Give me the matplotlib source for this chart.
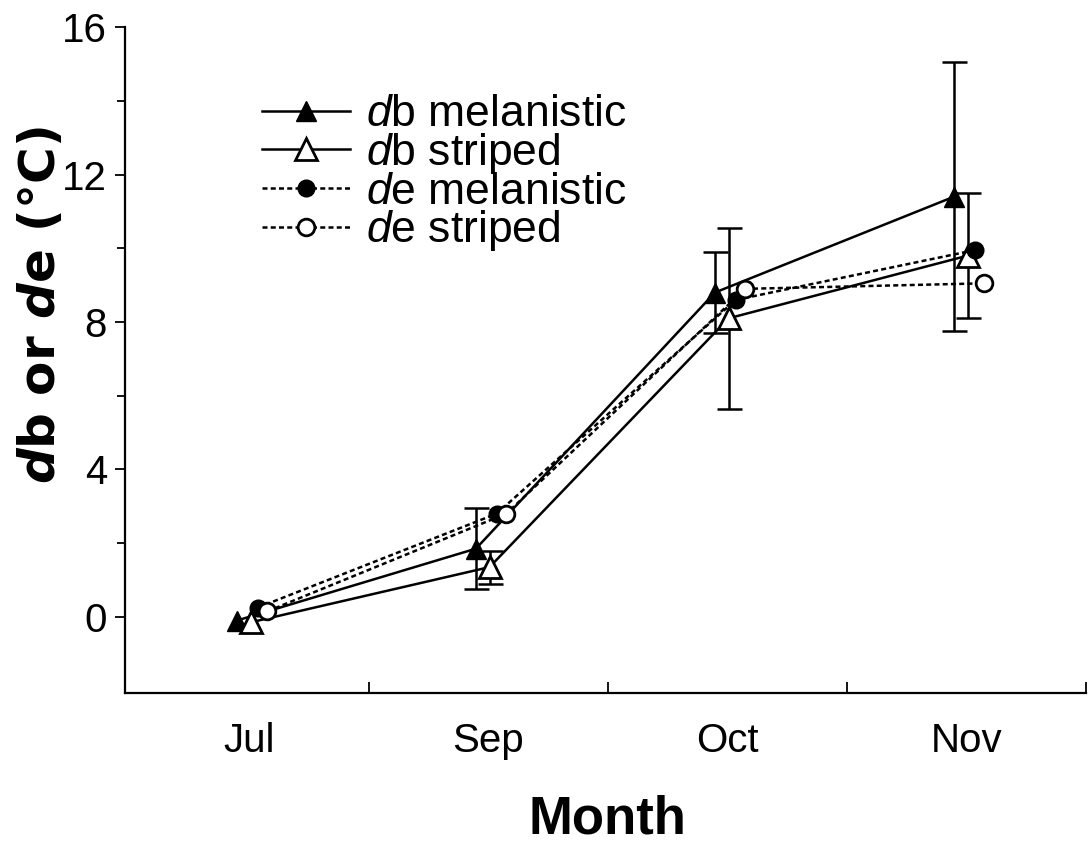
import numpy as np
import matplotlib
matplotlib.use("Agg")
import matplotlib.pyplot as plt
from matplotlib.ticker import FixedLocator

plt.rcParams['font.family'] = ['Liberation Sans', 'DejaVu Sans']
plt.rcParams['mathtext.fontset'] = 'custom'
plt.rcParams['mathtext.rm'] = 'Liberation Sans'
plt.rcParams['mathtext.it'] = 'Liberation Sans:italic'
plt.rcParams['mathtext.bf'] = 'DejaVu Sans:italic:bold'
plt.rcParams['mathtext.sf'] = 'DejaVu Sans:bold'

# body temperature difference (db) and operative temperature difference (de)
months = ['Jul', 'Sep', 'Oct', 'Nov']
db_melanistic = [-0.1, 1.85, 8.8, 11.4]
db_melanistic_err = [0.0, 1.1, 1.1, 3.65]
db_striped = [-0.15, 1.35, 8.1, 9.8]
db_striped_err = [0.0, 0.45, 2.45, 1.7]
de_melanistic = [0.25, 2.8, 8.6, 9.95]
de_striped = [0.15, 2.8, 8.9, 9.05]

x = np.arange(len(months))
off = {'dbm': -0.052, 'dbs': 0.005, 'dem': 0.035, 'des': 0.075}

fig = plt.figure(figsize=(10.88, 8.5), dpi=100)
ax = fig.add_axes([0.115, 0.185, 0.883, 0.783])

lw = 1.8
dash = (0, (2, 1.3))

ax.plot(x + off['dbm'], db_melanistic, color='black', lw=lw, marker='^',
        ms=14, mfc='black', mec='black', label=r'$\mathit{d}$b melanistic', zorder=3)
ax.plot(x + off['dbs'], db_striped, color='black', lw=lw, marker='^',
        ms=16, mfc='white', mec='black', mew=2, label=r'$\mathit{d}$b striped', zorder=4)
ax.plot(x + off['dem'], de_melanistic, color='black', lw=lw, ls=dash,
        marker='o', ms=12, mfc='black', mec='black',
        label=r'$\mathit{d}$e melanistic', zorder=5)
ax.plot(x + off['des'], de_striped, color='black', lw=lw, ls=dash,
        marker='o', ms=12, mfc='white', mec='black', mew=2,
        label=r'$\mathit{d}$e striped', zorder=5)

# error bars for db only (skip months with no spread)
err_kw = dict(fmt='none', ecolor='black', elinewidth=lw, capsize=9, capthick=lw, zorder=2)
for key, vals, errs in (('dbm', db_melanistic, db_melanistic_err),
                        ('dbs', db_striped, db_striped_err)):
    vals, errs = np.array(vals), np.array(errs)
    m = errs > 0
    ax.errorbar(x[m] + off[key], vals[m], yerr=errs[m], **err_kw)

ax.set_xlim(-0.52, 3.5)
ax.set_ylim(-2.06, 16)

ax.spines['top'].set_visible(False)
ax.spines['right'].set_visible(False)
for s in ('left', 'bottom'):
    ax.spines[s].set_linewidth(1.6)

ax.set_xticks(x)
ax.set_xticklabels(months, fontsize=29)
ax.xaxis.set_minor_locator(FixedLocator([0.5, 1.5, 2.5, 3.5]))
ax.tick_params(axis='x', which='major', length=0, pad=21)
ax.tick_params(axis='x', which='minor', direction='in', length=8, width=1.3)

ax.set_yticks([0, 4, 8, 12, 16])
ax.yaxis.set_minor_locator(FixedLocator([2, 6, 10, 14]))
ax.tick_params(axis='y', which='major', direction='out', length=7, width=1.3,
               labelsize=29, pad=6)
ax.tick_params(axis='y', which='minor', direction='out', length=6, width=1.3)

ax.set_xlabel('Month', fontsize=38, fontweight='bold')
ax.xaxis.set_label_coords(0.502, -0.153)
ax.set_ylabel(r'$\mathbf{d}\mathsf{b}$ or $\mathbf{d}\mathsf{e}$ (°C)',
              fontsize=36, fontweight='bold', family='DejaVu Sans')
ax.yaxis.set_label_coords(-0.063, 0.583)

ax.legend(loc='upper left', bbox_to_anchor=(0.142, 0.899), frameon=False,
          fontsize=32, handlelength=1.98, handletextpad=0.38, labelspacing=-0.1,
          borderpad=0, borderaxespad=0)

fig.savefig('out.png', dpi=100)
